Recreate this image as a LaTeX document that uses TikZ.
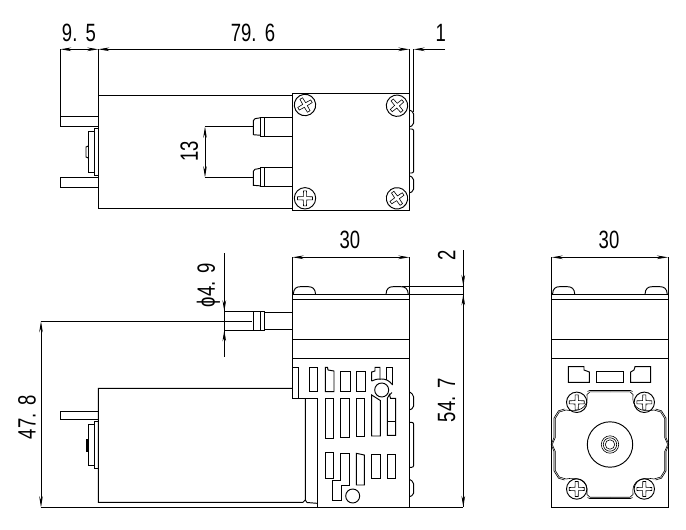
\documentclass[tikz,border=0pt]{standalone}
\usepackage{fontspec}
\setmainfont[FakeStretch=0.74]{Liberation Sans}
\usetikzlibrary{arrows.meta}
\tikzset{
  part/.style={line width=0.95pt,line join=miter},
  thin part/.style={line width=0.6pt},
  dim/.style={line width=0.85pt},
  dimboth/.style={dim,{Stealth[length=11pt,width=3.6pt]}-{Stealth[length=11pt,width=3.6pt]}},
  dimtip/.style={dim,-{Stealth[length=11pt,width=3.6pt]}},
  dimlabel/.style={inner sep=0pt,font=\fontsize{25}{27}\selectfont},
  sidelabel/.style={dimlabel,rotate=90}
}
\newcommand{\crossscrew}[4]{% x,y,angle,radius
  \begin{scope}[shift={(#1,#2)},rotate=#3]
    \draw[part] (0,0) circle[radius=#4pt];
    \draw[thin part] (-7.5,-1.5)--(-1.7,-1.7)--(-1.5,-7.5)--(1.5,-7.5)--(1.7,-1.7)--(7.5,-1.5)--(7.5,1.5)--(1.7,1.7)--(1.5,7.5)--(-1.5,7.5)--(-1.7,1.7)--(-7.5,1.5)--cycle;
  \end{scope}}
\newcommand{\headleft}[1]{\draw[part] (#1,294.3) .. controls (#1+0.3,288.5) and (#1+3,286.7) .. (#1+7,286.7) -- (#1+15,286.7) .. controls (#1+19,286.7) and (#1+22,288.5) .. (#1+22.3,294.3);}
\begin{document}
\begin{tikzpicture}[x=1pt,y=-1pt]
\useasboundingbox (0,0) rectangle (686,530);
\fill[white] (0,0) rectangle (686,530);

% ---------- top view ----------
\draw[part] (98.3,95) -- (292.3,95);
\draw[part] (98.3,95) -- (98.3,208.3) -- (292.3,208.3);
\draw[part] (292.3,93.3) rectangle (409.3,210.3);
\draw[part] (98.3,116) -- (60.3,116) -- (60.3,126.7) -- (98.3,126.7);
\draw[part] (98.3,177.3) -- (60.3,177.3) -- (60.3,187.3) -- (98.3,187.3);
\draw[part] (98.3,128) -- (94,128) -- (94,175.7) -- (98.3,175.7);
\draw[part] (94,131.7) -- (88.3,131.7) -- (88.3,172.3) -- (94,172.3);
\draw[part] (88.3,146) -- (86,147) -- (86,157) -- (88.3,158);
% fittings
\foreach \yc in {126.7,177.3}{
  \draw[part] (292.3,\yc-9.6) -- (264,\yc-9.6) -- (260.7,\yc-9.6) -- (260.7,\yc+9.6) -- (292.3,\yc+9.6);
  \draw[part] (264,\yc-9.6) -- (264,\yc+9.6);
  \draw[part] (260.7,\yc-9) -- (255,\yc-8) -- (253.3,\yc-6) -- (253.3,\yc+8) -- (260.7,\yc+8.6);
}
% bumps on the right edge
\draw[part,rounded corners=2pt] (409.3,110) -- (413.7,112) -- (413.7,125) -- (409.3,127);
\draw[part,rounded corners=2pt] (409.3,129) -- (413.7,129) -- (413.7,173) -- (409.3,173);
\draw[part,rounded corners=2pt] (409.3,175.7) -- (413.7,178) -- (413.7,191) -- (409.3,193);
\crossscrew{305}{105}{30}{10.7}
\crossscrew{397}{105.7}{40}{10.7}
\crossscrew{305}{198.3}{0}{10.7}
\crossscrew{397}{198.3}{35}{10.7}
% top dims
\draw[dim] (60.3,49.3) -- (60.3,116);
\draw[dim] (98.3,49.3) -- (98.3,95);
\draw[dim] (409.3,49.3) -- (409.3,93.3);
\draw[dim] (413.7,49.3) -- (413.7,112);
\draw[dimboth] (60.3,49.3) -- (98.3,49.3);
\draw[dimboth] (98.3,49.3) -- (409.3,49.3);
\draw[dimtip] (445,49.3) -- (413.7,49.3);
\node[dimlabel] (l95) at (79,32.7) {9.\,\,5};
\node[dimlabel] (l796) at (253,32.7) {79.\,\,6};
\node[dimlabel] (l1) at (440.7,32.7) {1};
\draw[dim] (252.5,126.7) -- (205,126.7);
\draw[dim] (252.5,177.3) -- (205,177.3);
\draw[dimboth] (205,126.7) -- (205,177.3);
\node[sidelabel] (l13) at (189.3,151.7) {13};

% ---------- front view ----------
\draw[part] (292.5,257.3) -- (292.5,399);
\draw[part] (409.3,257.3) -- (409.3,507.3);
\foreach \yy in {294.3,299.3,339.3,358.3}{\draw[part] (292.5,\yy) -- (409.3,\yy);}
\headleft{293.3}
\headleft{386}
\draw[dimboth] (292.5,257.3) -- (409.3,257.3);
\node[dimlabel] (l30a) at (350,240) {30};
% fitting
\draw[part] (292.3,312.3) -- (264.3,312.3);
\draw[part] (292.3,329.3) -- (264.3,329.3);
\draw[part] (264.3,311.3) rectangle (253.3,330.3);
\draw[part] (260,311.3) -- (260,330.3);
% step and lower body
\draw[part] (298.3,367.3) -- (292.5,367.3) (298.3,367.3) -- (298.3,398.3);
\draw[part] (292.5,398.3) -- (317,398.3);
\draw[part] (305.3,398.3) -- (305.3,500) -- (307,502.5) -- (317,503.3);
\draw[part] (317,398.3) -- (317,507.3);
\draw[part] (317,507.3) -- (409.3,507.3);
% motor
\draw[part] (292.3,388.3) -- (98.3,388.3) -- (98.3,502.3) -- (303,502.3) -- (305.3,500);
\draw[part] (98.3,411.3) -- (60.3,411.3) -- (60.3,419.7) -- (98.3,419.7);
\draw[part] (98.3,421.3) -- (94.3,421.3) -- (94.3,468.3) -- (98.3,468.3);
\draw[part] (94.3,424.3) -- (88.3,424.3) -- (88.3,465.3) -- (94.3,465.3);
\draw[line width=1.6pt] (86.7,439) -- (86.7,451.7);
% slots row 1
\draw[part] (309.3,367.3) rectangle (317.3,391.7);
\draw[part] (325.3,367.3) -- (325.3,391.7) -- (334,391.7) -- (334,371) -- (328,370) -- (327.5,367.3) -- cycle;
\draw[part] (340.3,371) rectangle (350,391.7);
\draw[part] (356.3,371) rectangle (365,391.7);
\draw[part] (371.7,381) -- (371.7,372) -- (375,371) -- (375,367.3) -- (380,367.3) -- (380,379.5);
\draw[part] (386.7,380) -- (386.7,367.3) -- (392.7,367.3) -- (392.7,385);
\draw[part] (381.7,390) circle[radius=7pt];
\draw[part] (371.7,381) .. controls (374,379.5) and (377,379) .. (381.7,379) .. controls (385,379) and (389,380) .. (392.7,385);
% slots row 2
\draw[part] (325.3,398.3) rectangle (333.3,438);
\draw[part] (340.3,398.3) rectangle (349.3,437.5);
\draw[part] (356.3,398.3) rectangle (364.3,436.5);
\draw[part] (371.7,395) -- (371.7,436) -- (380.3,436) -- (380.3,400.5) -- cycle;
\draw[part] (387.3,398.3) -- (389.5,394.5) -- (390.5,398.3) -- (395.7,398.3) -- (395.7,435.3) -- (387.3,435.3) -- cycle;
\draw[part] (387.3,421.7) -- (395.7,421.7);
\draw[part] (392,392.5) -- (390,394.5);
% slots row 3
\draw[part] (325.3,452) rectangle (333.3,478.3);
\draw[part] (340.3,453.3) -- (349.3,453.3) -- (349.3,485) -- (341.7,485) -- (341.7,500) -- (332.3,500) -- (332.3,480.7) -- (340.3,480.7) -- cycle;
\draw[part] (356.3,453.3) -- (364.3,455) -- (364.3,485) -- (356.3,485) -- cycle;
\draw[part] (371.7,454.3) rectangle (380.3,478.3);
\draw[part] (387.3,454.3) rectangle (395.7,478.3);
\draw[part] (352.7,496) circle[radius=7pt];
% bumps
\draw[part,rounded corners=2pt] (409.3,391.7) -- (413.7,395) -- (413.7,408) -- (409.3,410);
\draw[part,rounded corners=2pt] (409.3,422.3) -- (413.7,422.3) -- (413.7,467.3) -- (409.3,467.3);
\draw[part,rounded corners=2pt] (409.3,479.3) -- (413.7,482) -- (413.7,495) -- (409.3,496.7);
% front dims
\draw[dim] (401.7,286) -- (463.3,286);
\draw[dim] (409.3,294.3) -- (463.3,294.3);
\draw[dim] (463.3,250) -- (463.3,507);
\draw[dimtip] (463.3,274.5) -- (463.3,286);
\draw[dimtip] (463.3,306) -- (463.3,294.3);
\draw[dimtip] (463.3,495) -- (463.3,507);
\draw[dim] (317,507.3) -- (41,507.3);
\draw[dim] (409.3,507.3) -- (463.3,507.3);
\node[sidelabel] (l2) at (446.7,255) {2};
\node[sidelabel] (l547) at (446.7,400) {54.\,\,7};
\draw[dim] (252,321.3) -- (41,321.3);
\draw[dimboth] (41,321.3) -- (41,507.3);
\node[sidelabel] (l478) at (27,417) {47.\,\,8};
\draw[dim] (224.3,311.3) -- (253.3,311.3);
\draw[dim] (224.3,330.3) -- (253.3,330.3);
\draw[dim] (224.3,253.3) -- (224.3,357.3);
\draw[dimtip] (224.3,299.5) -- (224.3,311.3);
\draw[dimtip] (224.3,342) -- (224.3,330.3);
\node[sidelabel] (lphi) at (208.3,285) {ϕ4.\,\,9};

% ---------- end view ----------
\draw[part] (551.7,257.3) -- (551.7,507.3) -- (668,507.3) -- (668,257.3);
\foreach \yy in {294.3,299.3,339.3,358.3}{\draw[part] (551.7,\yy) -- (668,\yy);}
\headleft{552.5}
\headleft{645}
\draw[dimboth] (551.7,257.3) -- (668,257.3);
\node[dimlabel] (l30b) at (609,240) {30};
\draw[part] (568.3,366.7) -- (584,366.7) -- (584,370) -- (589.3,372) -- (589.3,382.3) -- (568.3,382.3) -- cycle;
\draw[part] (596,371.7) rectangle (623.3,382.3);
\draw[part] (650.7,366.7) -- (635,366.7) -- (634,370) -- (630.7,372) -- (630.7,382.3) -- (650.7,382.3) -- cycle;
% motor flange
\begin{scope}[shift={(610,444.5)}]
  \foreach \sx/\sy in {1/1,-1/1,1/-1,-1/-1}{
    \begin{scope}[xscale=\sx,yscale=\sy]
      \draw[thin part] (0,-52.7) -- (20,-52.7) -- (23,-50) .. controls (21,-36) and (32,-32) .. (44,-34.5) -- (50.7,-32.5) -- (54.7,-26) -- (54.7,-7) -- (57.7,0);
      \draw[thin part] (0,-54) -- (20.5,-54) -- (22.5,-53) (45.5,-35.5) -- (51.5,-33.7) -- (56,-26.5) -- (56,-7) -- (58.8,0);
    \end{scope}
  }
  \draw[part] (0,0) circle[radius=22.7pt];
  \draw[thin part] (0,0) circle[radius=8.7pt];
  \draw[thin part] (0,0) circle[radius=6.7pt];
  \draw[thin part] (0,0) circle[radius=4.7pt];
\end{scope}
\crossscrew{576.7}{402.3}{0}{10.2}
\crossscrew{644.3}{402.3}{0}{10.2}
\crossscrew{576.7}{489}{0}{10.2}
\crossscrew{644.3}{489}{0}{10.2}
\end{tikzpicture}
\end{document}
